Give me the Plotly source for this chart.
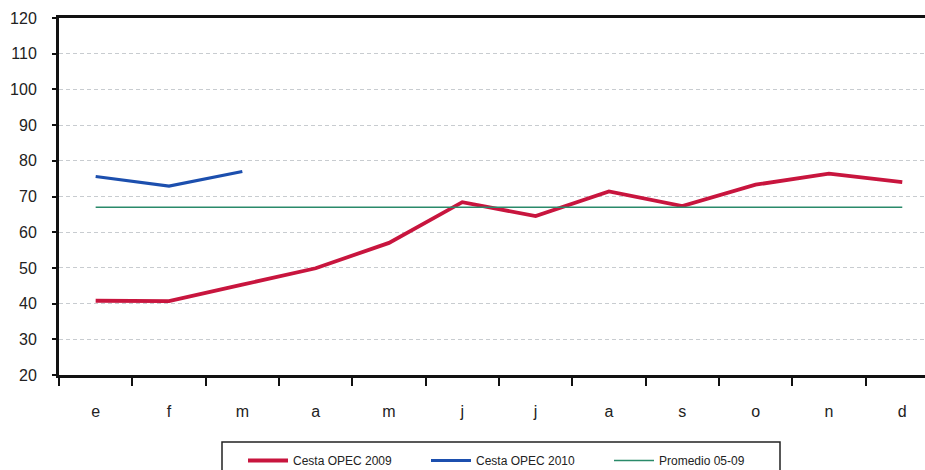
import plotly.graph_objects as go

months = ["e", "f", "m", "a", "m ", "j", "j ", "a ", "s", "o", "n", "d"]
month_labels = ["e", "f", "m", "a", "m", "j", "j", "a", "s", "o", "n", "d"]
opec_2009 = [40.8, 40.7, 45.3, 49.9, 57.0, 68.4, 64.5, 71.4, 67.3, 73.3, 76.4, 74.0]
opec_2010 = [75.6, 72.9, 77.0]
promedio_05_09 = [67.0] * 12

W, H = 925, 470
L, R, T, B = 59, 0, 18, 95
pw, ph = W - L - R, H - T - B

def px_x(x):
    return (x - L) / pw

def px_y(y):
    return (H - B - y) / ph

fig = go.Figure()
fig.add_trace(go.Scatter(x=months, y=opec_2009, mode="lines", name="Cesta OPEC 2009",
                         line=dict(color="#C8153E", width=3.8)))
fig.add_trace(go.Scatter(x=months[:3], y=opec_2010, mode="lines", name="Cesta OPEC 2010",
                         line=dict(color="#1C4FAE", width=3.2)))
fig.add_trace(go.Scatter(x=months, y=promedio_05_09, mode="lines", name="Promedio 05-09",
                         line=dict(color="#2A8A6A", width=1.5)))

# legend box
fig.add_shape(type="rect", xref="paper", yref="paper",
              x0=px_x(222), x1=px_x(780), y0=px_y(480), y1=px_y(442),
              line=dict(color="#222", width=1.5), fillcolor="rgba(0,0,0,0)", layer="above")

fig.update_layout(
    width=W, height=H,
    margin=dict(l=L, r=R, t=T, b=B, autoexpand=False),
    plot_bgcolor="white", paper_bgcolor="white",
    font=dict(family="Liberation Sans, Arial, sans-serif", color="#222"),
    showlegend=True,
    legend=dict(orientation="h", x=px_x(243), y=px_y(446), xanchor="left", yanchor="top",
                borderwidth=0, font=dict(size=12),
                entrywidth=128, entrywidthmode="pixels", itemwidth=40,
                bgcolor="rgba(0,0,0,0)"),
)
fig.update_xaxes(type="category", categoryorder="array", categoryarray=months,
                 tickvals=months, ticktext=month_labels, automargin=False,
                 range=[-0.5, 11.31], showgrid=False, zeroline=False,
                 showline=True, linecolor="#111", linewidth=3, mirror=True,
                 tickson="boundaries", ticks="outside", ticklen=8, tickwidth=2,
                 tickcolor="#111", ticklabelstandoff=20,
                 tickfont=dict(size=16))
fig.update_yaxes(range=[20, 120], dtick=10, showgrid=True, gridcolor="#c8ccd0",
                 griddash="4px,3px", gridwidth=1.2, zeroline=False, automargin=False,
                 showline=True, linecolor="#111", linewidth=3,
                 ticks="outside", ticklen=4, tickwidth=1.5, tickcolor="#111",
                 ticklabelstandoff=12,
                 tickfont=dict(size=16))

fig.write_html("out.html", config={"displayModeBar": False},
               post_script="document.body.style.margin='0';document.body.style.overflow='hidden';")
